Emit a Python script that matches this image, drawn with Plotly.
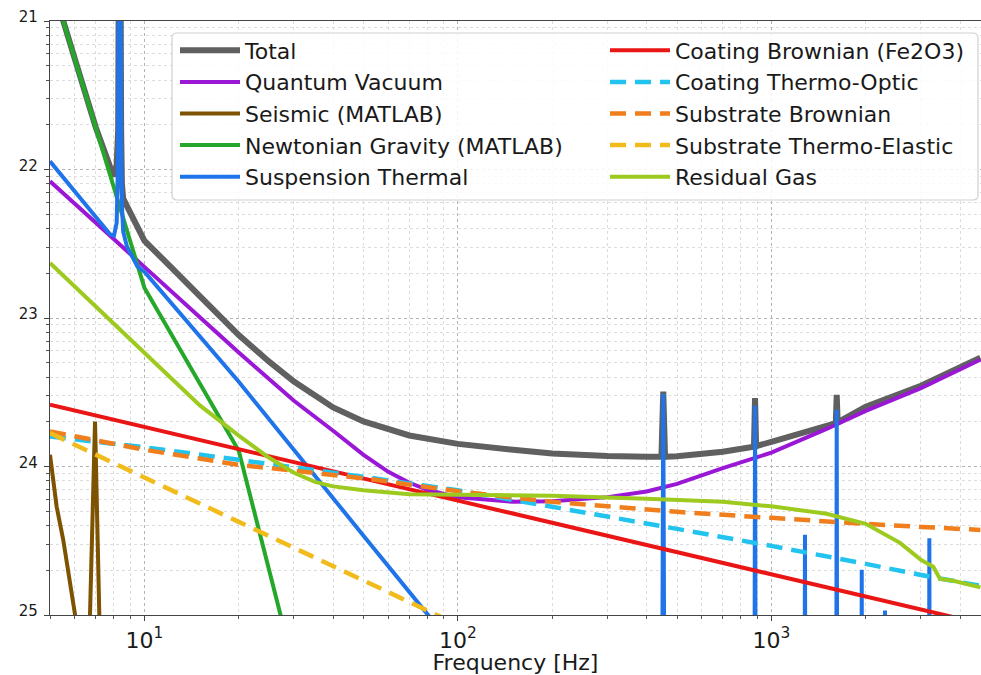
import plotly.graph_objects as go

FONT = "DejaVu Sans"

# ---------------- data ----------------
TOTAL_F = [5, 6, 7, 7.77, 8.0, 8.16, 8.25, 8.34, 8.43, 8.48, 8.56, 10, 12, 15, 20, 25, 30, 40, 50,
           70, 100, 150, 200, 300, 400, 446, 452, 458, 500, 700, 880, 887, 894, 1000, 1500,
           1605, 1616, 1627, 2000, 3000, 4642]
TOTAL_V = [1.97e-21, 5.55e-22, 1.92e-22, 1.046e-22, 9.0e-23, 1.079e-22, 1.858e-22, 1e-19, 1.858e-22,
           7.91e-23, 6.37e-23, 3.32e-23, 2.258e-23, 1.407e-23, 7.67e-24, 5.08e-24, 3.73e-24, 2.50e-24,
           2.01e-24, 1.618e-24, 1.420e-24, 1.296e-24, 1.224e-24, 1.175e-24, 1.162e-24, 1.162e-24,
           3.20e-24, 1.162e-24, 1.171e-24, 1.256e-24, 1.36e-24, 2.89e-24, 1.37e-24, 1.467e-24,
           1.88e-24, 1.96e-24, 3.04e-24, 1.98e-24, 2.525e-24, 3.50e-24, 5.40e-24]

QV_F = [5, 7, 10, 15, 20, 30, 40, 50, 60, 70, 80, 100, 150, 200, 300, 400, 500, 700, 1000, 1500,
        2000, 3000, 4642]
QV_V = [8.33e-23, 4.38e-23, 2.21e-23, 1.017e-23, 5.85e-24, 2.77e-24, 1.74e-24, 1.199e-24, 9.21e-25,
        7.77e-25, 6.97e-25, 6.20e-25, 5.78e-25, 5.83e-25, 6.22e-25, 6.79e-25, 7.63e-25, 9.75e-25,
        1.24e-24, 1.79e-24, 2.37e-24, 3.37e-24, 5.24e-24]

SEIS_F = [5, 5.25, 5.51, 6.0, 6.3, 6.6, 6.71, 6.96, 7.18, 7.3, 10]
SEIS_V = [1.20e-24, 5.37e-25, 3.21e-25, 1.028e-25, 4e-26, 2e-26, 1.033e-25, 2.01e-24, 1.033e-25, 2e-26, 1e-27]

NN_F = [5, 10, 20, 27.1, 30]
NN_V = [1.968e-21, 1.600e-23, 1.276e-24, 1.028e-25, 4.335e-26]

SUS_F = [5, 7, 7.77, 8.0, 8.16, 8.25, 8.34, 8.43, 8.48, 8.56, 8.8, 9.5, 10, 20, 50, 80, 100, 200,
         446, 452, 458, 880, 887, 894, 1270, 1280, 1290, 1605, 1616, 1627, 1930, 1942, 1954,
         2290, 2304, 2318, 3170, 3191, 3212, 4642]
SUS_V = [1.136e-22, 4.79e-23, 3.66e-23, 3.585e-23, 4.386e-23, 1.362e-22, 1e-19, 1.362e-22, 5.80e-23,
         3.816e-23, 3.023e-23, 2.227e-23, 2.051e-23, 3.72e-24, 3.42e-25, 1.011e-25, 5.66e-26, 9.3e-27,
         1e-27, 3.09e-24, 1e-27, 3e-28, 2.565e-24, 3e-28, 1e-28, 3.467e-25, 1e-28, 8e-29, 2.41e-24, 8e-29,
         5e-29, 2.014e-25, 5e-29, 4e-29, 1.074e-25, 4e-29, 2e-29, 3.29e-25, 2e-29, 1e-29]

CB_F = [5, 100, 4642]
CB_V = [2.605e-24, 5.89e-25, 8.77e-26]

CTO_F = [5, 10, 20, 50, 100, 200, 500, 1000, 2000, 3000, 4642]
CTO_V = [1.593e-24, 1.347e-24, 1.109e-24, 8.52e-25, 6.91e-25, 5.35e-25, 3.80e-25, 2.92e-25,
         2.21e-25, 1.86e-25, 1.571e-25]

SB_F = [5, 10, 20, 50, 100, 200, 500, 1000, 2000, 3000, 4642]
SB_V = [1.721e-24, 1.296e-24, 1.027e-24, 8.33e-25, 6.81e-25, 5.78e-25, 4.95e-25, 4.51e-25,
        4.11e-25, 3.92e-25, 3.74e-25]

STE_F = [5, 10, 20, 50, 100, 120]
STE_V = [1.679e-24, 8.43e-25, 4.24e-25, 1.708e-25, 8.58e-26, 7.16e-26]

RG_F = [5, 10, 15, 20, 25, 30, 35, 40, 50, 70, 100, 200, 400, 700, 1000, 1500, 2000, 2573, 3000,
        3285, 3450, 3804, 4642]
RG_V = [2.348e-23, 5.84e-24, 2.59e-24, 1.613e-24, 1.144e-24, 9.07e-25, 7.88e-25, 7.35e-25, 6.91e-25,
        6.50e-25, 6.45e-25, 6.35e-25, 6.06e-25, 5.78e-25, 5.39e-25, 4.80e-25, 4.11e-25, 3.06e-25,
        2.35e-25, 2.11e-25, 1.75e-25, 1.70e-25, 1.535e-25]

X_TICKS = [10, 100, 1000]
X_TICKTEXT = ["10<sup>1</sup>", "10<sup>2</sup>", "10<sup>3</sup>"]
Y_TICKS = [1e-25, 1e-24, 1e-23, 1e-22, 1e-21]
Y_TICKTEXT = ["25", "24", "23", "22", "21"]

# ---------------- figure ----------------
series = [
    ("Total", TOTAL_F, TOTAL_V, "#606060", 6, "solid", "legend"),
    ("Quantum Vacuum", QV_F, QV_V, "#9a17d6", 4, "solid", "legend"),
    ("Seismic (MATLAB)", SEIS_F, SEIS_V, "#7d5200", 4, "solid", "legend"),
    ("Newtonian Gravity (MATLAB)", NN_F, NN_V, "#25a82a", 4, "solid", "legend"),
    ("Suspension Thermal", SUS_F, SUS_V, "#1f74ea", 4, "solid", "legend"),
    ("Coating Brownian (Fe2O3)", CB_F, CB_V, "#ea1515", 4, "solid", "legend2"),
    ("Coating Thermo-Optic", CTO_F, CTO_V, "#22c3ef", 4.5, "16px,9px", "legend2"),
    ("Substrate Brownian", SB_F, SB_V, "#f07e1c", 4.5, "16px,9px", "legend2"),
    ("Substrate Thermo-Elastic", STE_F, STE_V, "#f2bb1c", 4.5, "16px,9px", "legend2"),
    ("Residual Gas", RG_F, RG_V, "#9dca1e", 4, "solid", "legend2"),
]

fig = go.Figure()
for name, fx, fy, color, width, dash, leg in series:
    fig.add_trace(go.Scatter(
        x=fx, y=fy, mode="lines", name=name, legend=leg,
        line=dict(color=color, width=width, dash=dash, simplify=False),
    ))

def minor_vals(lo_exp, hi_exp, lo, hi):
    out = []
    for e in range(lo_exp, hi_exp + 1):
        for m in range(2, 10):
            v = m * 10.0 ** e
            if lo <= v <= hi:
                out.append(v)
    return out

x_min_vals = minor_vals(0, 3, 5, 4700)
y_min_vals = minor_vals(-25, -22, 1e-25, 1e-21)

x_lo, x_hi = 0.69897, 0.69897 + 931 / 313.5

fig.update_xaxes(
    type="log", range=[x_lo, x_hi], automargin=False,
    tickmode="array", tickvals=X_TICKS, ticktext=X_TICKTEXT,
    ticks="outside", ticklen=5, tickwidth=1, tickcolor="#444",
    showline=True, linecolor="#444", linewidth=1.2, mirror=True,
    showgrid=True, gridcolor="#b4b4b4", griddash="dot", gridwidth=1,
    minor=dict(tickmode="array", tickvals=x_min_vals, ticks="outside", ticklen=3,
               tickcolor="#555", showgrid=True, gridcolor="#dcdcdc", griddash="dot", gridwidth=1),
    tickfont=dict(family=FONT, size=22, color="#1a1a1a"),
    title=dict(text="Frequency [Hz]", font=dict(family=FONT, size=22, color="#1a1a1a"), standoff=7),
    zeroline=False,
)
fig.update_yaxes(
    type="log", range=[-25, -21], automargin=False,
    tickmode="array", tickvals=Y_TICKS, ticktext=Y_TICKTEXT,
    ticks="outside", ticklen=5, tickwidth=1, tickcolor="#444",
    showline=True, linecolor="#444", linewidth=1.2, mirror=False,
    showgrid=True, gridcolor="#b4b4b4", griddash="dot", gridwidth=1,
    minor=dict(tickmode="array", tickvals=y_min_vals, ticks="outside", ticklen=3,
               tickcolor="#555", showgrid=True, gridcolor="#dcdcdc", griddash="dot", gridwidth=1),
    tickfont=dict(family=FONT, size=15, color="#1a1a1a"),
    ticklabelshift=-4, ticklabelstandoff=3,
    zeroline=False,
)

# legend frame (shared by the two legend columns)
x0, x1 = (172 - 50) / 931, (978 - 50) / 931
y0, y1 = (615 - 200) / 594, (615 - 33) / 594
rx, ry = 5 / 931, 5 / 594
path = (f"M {x0+rx},{y1} L {x1-rx},{y1} Q {x1},{y1} {x1},{y1-ry} L {x1},{y0+ry} "
        f"Q {x1},{y0} {x1-rx},{y0} L {x0+rx},{y0} Q {x0},{y0} {x0},{y0+ry} "
        f"L {x0},{y1-ry} Q {x0},{y1} {x0+rx},{y1} Z")
fig.add_shape(type="path", path=path, xref="paper", yref="paper", layer="above",
              fillcolor="rgba(255,255,255,0.85)", line=dict(color="#d0d0d0", width=1.2))

leg_common = dict(xanchor="left", yanchor="top", bgcolor="rgba(0,0,0,0)", borderwidth=0,
                  font=dict(family=FONT, size=22, color="#1a1a1a"), itemwidth=60,
                  tracegroupgap=0)
fig.update_layout(
    width=981, height=675,
    margin=dict(l=50, r=0, t=21, b=60, autoexpand=False),
    paper_bgcolor="white", plot_bgcolor="white",
    font=dict(family=FONT, size=22, color="#1a1a1a"),
    showlegend=True,
    legend=dict(x=(175 - 50) / 931, y=(615 - 29.5) / 594, **leg_common),
    legend2=dict(x=(605 - 50) / 931, y=(615 - 29.5) / 594, **leg_common),
)

fig.write_html(
    "out.html",
    config={"displayModeBar": False},
    post_script="document.body.style.margin='0';document.body.style.padding='0';"
                "document.documentElement.style.overflow='hidden';",
)
